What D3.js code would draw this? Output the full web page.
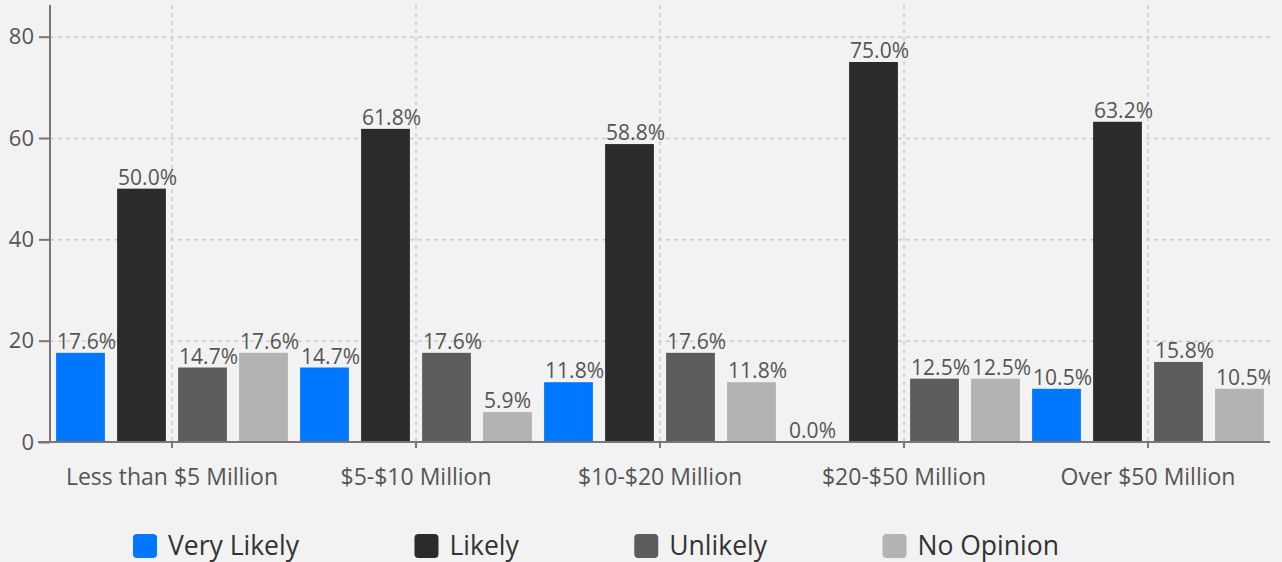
<!DOCTYPE html>
<html><head><meta charset="utf-8">
<script src="https://cdn.jsdelivr.net/npm/d3@7"></script>
<style>
html,body{margin:0;padding:0;background:#f2f2f2;}
svg{display:block;font-family:"Open Sans",sans-serif;}
</style></head>
<body>
<svg id="chart" width="1282" height="562"></svg>
<script>
const categories = ["Less than $5 Million", "$5-$10 Million", "$10-$20 Million", "$20-$50 Million", "Over $50 Million"];
const seriesNames = ["Very Likely", "Likely", "Unlikely", "No Opinion"];
const veryLikely = [17.6, 14.7, 11.8, 0.0, 10.5];
const likely = [50.0, 61.8, 58.8, 75.0, 63.2];
const unlikely = [14.7, 17.6, 17.6, 12.5, 15.8];
const noOpinion = [17.6, 5.9, 11.8, 12.5, 10.5];
const yTicks = [0, 20, 40, 60, 80];
const colors = ["#0077ff", "#2b2b2b", "#5b5c5e", "#b3b3b3"];

const seriesValues = [veryLikely, likely, unlikely, noOpinion];
const svg = d3.select("#chart");
const W = 1282, H = 562;
const m = {left: 50, right: 12, top: 5, bottom: 120};
const x0 = d3.scaleBand().domain(categories).range([m.left, W - m.right]).padding(0);
const x1 = d3.scaleBand().domain(seriesNames).range([0, x0.bandwidth()]).paddingInner(0.2).paddingOuter(0.1);
const y = d3.scaleLinear().domain([0, 86.25]).range([H - m.bottom, m.top]);
const color = d3.scaleOrdinal().domain(seriesNames).range(colors);

// clip
svg.append("defs").append("clipPath").attr("id","clip").append("rect")
  .attr("x", m.left).attr("y", 0).attr("width", W - m.right - m.left).attr("height", H - m.bottom);

// grid
const grid = svg.append("g");
grid.selectAll("line.h").data(yTicks.filter(d => d > 0)).join("line")
  .attr("x1", m.left).attr("x2", W - m.right)
  .attr("y1", d => y(d) + 0.5).attr("y2", d => y(d) + 0.5)
  .attr("stroke", "#cccccc").attr("stroke-width", 1.5).attr("stroke-dasharray", "4,4");
grid.selectAll("line.v").data(categories).join("line")
  .attr("x1", d => x0(d) + x0.bandwidth()/2).attr("x2", d => x0(d) + x0.bandwidth()/2)
  .attr("y1", m.top).attr("y2", H - m.bottom)
  .attr("stroke", "#cccccc").attr("stroke-width", 1.5).attr("stroke-dasharray", "4,4");

// bars
const data = [];
categories.forEach((c, i) => seriesNames.forEach((s, j) => data.push({c, s, v: seriesValues[j][i]})));
const gBars = svg.append("g");
gBars.selectAll("rect").data(data).join("rect")
  .attr("x", d => x0(d.c) + x1(d.s))
  .attr("y", d => y(d.v))
  .attr("width", x1.bandwidth())
  .attr("height", d => y(0) - y(d.v))
  .attr("fill", d => color(d.s));

const gLabels = svg.append("g").attr("clip-path", "url(#clip)");
gLabels.selectAll("text").data(data).join("text")
  .attr("x", d => x0(d.c) + x1(d.s) + 1)
  .attr("y", d => y(d.v) - 4)
  .attr("font-size", 21).attr("fill", "#555")
  .text(d => d.v.toFixed(1) + "%");

// axes
const yAxis = svg.append("g").attr("transform", `translate(${m.left},0)`)
  .call(d3.axisLeft(y).tickValues(yTicks).tickSize(11).tickPadding(5));
yAxis.select(".domain").attr("stroke", "#777").attr("stroke-width", 2).attr("d", `M0,${m.top}V${y(0)}`);
yAxis.selectAll(".tick line").attr("stroke", "#777").attr("stroke-width", 2);
yAxis.selectAll("text").attr("font-size", 22).attr("fill", "#555").attr("font-family", "Open Sans");

const xAxis = svg.append("g").attr("transform", `translate(0,${y(0)})`)
  .call(d3.axisBottom(x0).tickSize(6).tickPadding(21));
xAxis.select(".domain").attr("stroke", "#777").attr("stroke-width", 2).attr("d", `M${m.left - 12},0H${W - m.right}`);
xAxis.selectAll(".tick line").attr("stroke", "#777").attr("stroke-width", 2);
xAxis.selectAll("text").attr("font-size", 23).attr("fill", "#555").attr("font-family", "Open Sans");

// legend
const legend = svg.append("g");
let lx = 133;
seriesNames.forEach((s, i) => {
  const g = legend.append("g").attr("transform", `translate(${lx},534)`);
  g.append("rect").attr("width", 24).attr("height", 24).attr("rx", 4).attr("fill", color(s));
  const t = g.append("text").attr("x", 35).attr("y", 21).attr("font-size", 26.5).attr("fill", "#333").text(s);
  const w = t.node().getComputedTextLength();
  lx += 35 + w + 115.5;
});
</script>
</body></html>
